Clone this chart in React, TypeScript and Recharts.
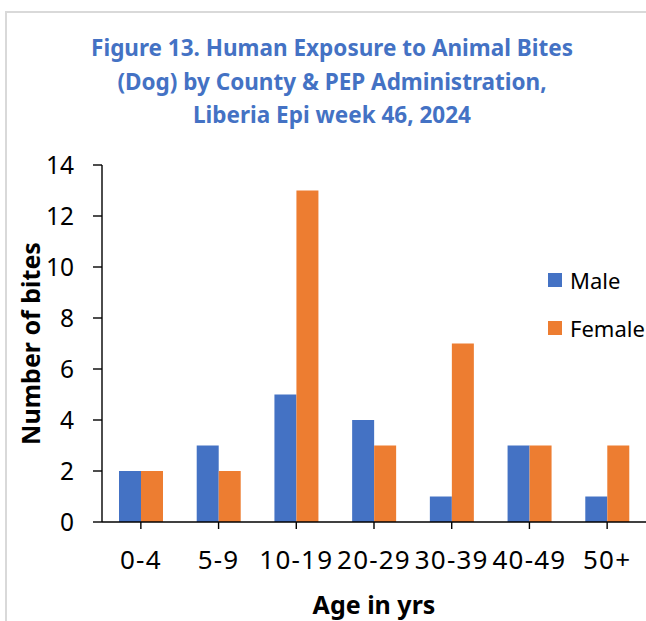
import { BarChart, Bar, XAxis, YAxis, Legend } from "recharts";

const AGE_GROUPS = ["0-4", "5-9", "10-19", "20-29", "30-39", "40-49", "50+"];
const MALE = [2, 3, 5, 4, 1, 3, 1];
const FEMALE = [2, 2, 13, 3, 7, 3, 3];
const Y_TICKS = [0, 2, 4, 6, 8, 10, 12, 14];
const SERIES_ORDER = ["Male", "Female"];

const TITLE_LINES = [
  "Figure 13. Human Exposure to Animal Bites",
  "(Dog) by County & PEP Administration,",
  "Liberia Epi week 46, 2024",
];

const COLORS = {
  male: "#4472C4",
  female: "#ED7D31",
};

const FONT = "'Noto Sans', 'Open Sans', sans-serif";

const data = AGE_GROUPS.map((age, i) => ({
  age,
  male: MALE[i],
  female: FEMALE[i],
}));

function LegendBox({ payload }: any) {
  const items = [...(payload || [])].sort(
    (a: any, b: any) =>
      SERIES_ORDER.indexOf(a.value) - SERIES_ORDER.indexOf(b.value),
  );
  return (
    <div style={{ fontFamily: FONT, fontSize: 22, color: "#000" }}>
      {items.map((entry: any) => (
        <div
          key={entry.value}
          style={{ display: "flex", alignItems: "center", height: 48 }}
        >
          <span
            style={{
              display: "inline-block",
              width: 14,
              height: 14,
              background: entry.color,
              marginRight: 8,
            }}
          />
          <span>{entry.value}</span>
        </div>
      ))}
    </div>
  );
}

export default function App() {
  return (
    <div
      style={{
        position: "absolute",
        left: 0,
        top: 0,
        width: 646,
        height: 621,
        overflow: "hidden",
        background: "#fff",
      }}
    >
      <div
        style={{
          position: "absolute",
          left: 5,
          top: 11,
          width: 641,
          height: 610,
          borderLeft: "2px solid #d9d9d9",
          borderTop: "2px solid #d9d9d9",
          boxSizing: "border-box",
        }}
      />
      <div
        style={{
          position: "absolute",
          left: 0,
          top: 31,
          width: 664,
          textAlign: "center",
          fontFamily: FONT,
          fontWeight: 700,
          fontSize: 22.5,
          lineHeight: "33.5px",
          color: COLORS.male,
        }}
      >
        {TITLE_LINES.map((line) => (
          <div key={line}>{line}</div>
        ))}
      </div>
      <div style={{ position: "absolute", left: 0, top: 0 }}>
        <BarChart
          width={646}
          height={621}
          data={data}
          margin={{ top: 165, right: 0, bottom: 0, left: 6 }}
          barGap={0}
          barSize={22}
        >
          <XAxis
            dataKey="age"
            height={99}
            interval={0}
            tickSize={7}
            tickMargin={22}
            axisLine={{ stroke: "#000", strokeWidth: 1.4 }}
            tickLine={{ stroke: "#000", strokeWidth: 1.4 }}
            tick={{
              fill: "#000",
              fontSize: 26,
              fontFamily: FONT,
              letterSpacing: 1.2,
            }}
            label={{
              value: "Age in yrs",
              position: "insideBottom",
              offset: 7,
              fill: "#000",
              fontSize: 25,
              fontWeight: 700,
              fontFamily: FONT,
            }}
          />
          <YAxis
            width={96}
            domain={[0, 14]}
            ticks={Y_TICKS}
            interval={0}
            tickSize={9}
            tickMargin={19}
            axisLine={{ stroke: "#000", strokeWidth: 1.4 }}
            tickLine={{ stroke: "#000", strokeWidth: 1.4 }}
            tick={{ fill: "#000", fontSize: 24.5, fontFamily: FONT }}
            label={{
              content: ({ viewBox }: any) => {
                const cy = viewBox.y + viewBox.height / 2;
                return (
                  <text
                    x={30}
                    y={cy}
                    transform={`rotate(-90, 30, ${cy})`}
                    textAnchor="middle"
                    dominantBaseline="central"
                    fill="#000"
                    fontSize={25}
                    fontWeight={700}
                    fontFamily={FONT}
                  >
                    Number of bites
                  </text>
                );
              },
            }}
          />
          <Legend
            layout="vertical"
            verticalAlign="middle"
            align="center"
            wrapperStyle={{ left: 548, top: 256, width: 100 }}
            content={<LegendBox />}
          />
          <Bar
            dataKey="male"
            name="Male"
            fill={COLORS.male}
            isAnimationActive={false}
          />
          <Bar
            dataKey="female"
            name="Female"
            fill={COLORS.female}
            isAnimationActive={false}
          />
        </BarChart>
      </div>
    </div>
  );
}
